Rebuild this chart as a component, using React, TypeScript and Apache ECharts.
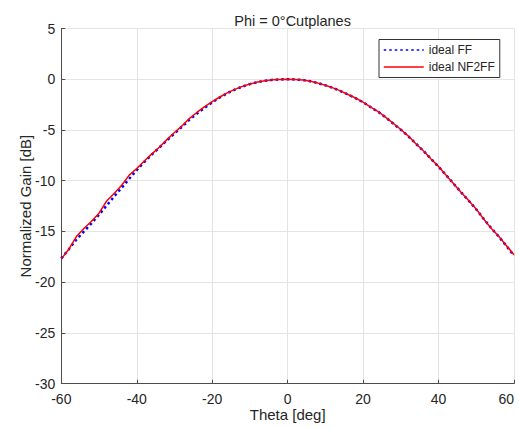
import React, { useEffect, useRef } from "react";
import * as echarts from "echarts";

const titleText = "Phi = 0°Cutplanes";
const xName = "Theta [deg]";
const yName = "Normalized Gain [dB]";
const seriesNames = ["ideal FF", "ideal NF2FF"];

const theta = [
  -60, -58, -56, -54, -52, -50, -48, -46, -44, -42, -40, -38, -36, -34, -32, -30,
  -28, -26, -24, -22, -20, -18, -16, -14, -12, -10, -8, -6, -4, -2, 0,
  2, 4, 6, 8, 10, 12, 14, 16, 18, 20, 22, 24, 26, 28, 30,
  32, 34, 36, 38, 40, 42, 44, 46, 48, 50, 52, 54, 56, 58, 60,
];

const idealFF = [
  -17.65, -16.75, -15.8, -15.0, -14.2, -13.35, -12.45, -11.55, -10.7, -9.8, -8.95, -8.15, -7.42, -6.72, -6.02, -5.35,
  -4.68, -3.98, -3.38, -2.82, -2.28, -1.8, -1.38, -1.02, -0.72, -0.48, -0.29, -0.15, -0.06, -0.02, 0,
  -0.02, -0.08, -0.2, -0.38, -0.6, -0.86, -1.16, -1.5, -1.87, -2.27, -2.75, -3.22, -3.77, -4.37, -4.97,
  -5.62, -6.35, -7.07, -7.85, -8.62, -9.45, -10.3, -11.15, -11.97, -12.82, -13.78, -14.68, -15.52, -16.42, -17.4,
];

const idealNF2FF = [
  -17.7, -16.75, -15.5, -14.7, -14.0, -13.2, -12.0, -11.25, -10.45, -9.45, -8.8, -8.05, -7.35, -6.7, -5.95, -5.25,
  -4.6, -3.85, -3.25, -2.7, -2.2, -1.75, -1.35, -1.0, -0.7, -0.47, -0.28, -0.14, -0.06, -0.02, 0,
  -0.02, -0.08, -0.2, -0.38, -0.6, -0.85, -1.15, -1.5, -1.85, -2.25, -2.75, -3.2, -3.75, -4.35, -4.95,
  -5.6, -6.35, -7.05, -7.85, -8.6, -9.45, -10.3, -11.15, -11.95, -12.8, -13.8, -14.7, -15.5, -16.4, -17.3,
];

const xMin = -60, xMax = 60, xStep = 20;
const yMin = -30, yMax = 5, yStep = 5;

export default function App() {
  const ref = useRef<HTMLDivElement>(null);
  useEffect(() => {
    if (!ref.current) return;
    const chart = echarts.init(ref.current, undefined, { renderer: "svg" });
    const axisColor = "#4d4d4d";
    const textColor = "#262626";
    const gridColor = "#e4e4e4";
    const font = "'Liberation Sans', Arial, Helvetica, sans-serif";
    chart.setOption({
      animation: false,
      backgroundColor: "#ffffff",
      textStyle: { fontFamily: font },
      title: {
        text: titleText,
        left: 287.6,
        top: 8,
        textAlign: "center",
        textStyle: { fontSize: 14.5, fontWeight: "normal", color: textColor, fontFamily: font },
      },
      legend: {
        orient: "vertical",
        left: 379,
        top: 39.5,
        padding: [3.5, 5, 3.5, 4],
        itemWidth: 40,
        itemHeight: 14,
        itemGap: 3,
        borderColor: "#333333",
        borderWidth: 1,
        backgroundColor: "#ffffff",
        itemStyle: { opacity: 0, borderWidth: 0 },
        lineStyle: { width: 1.5 },
        textStyle: { fontSize: 12, color: textColor, fontFamily: font, lineHeight: 14 },
        data: seriesNames,
      },
      grid: {
        left: 61.3,
        right: 5,
        top: 28.5,
        bottom: 45.3,
        containLabel: false,
        outerBoundsMode: "none",
      },
      xAxis: {
        type: "value",
        min: xMin,
        max: xMax,
        interval: xStep,
        name: xName,
        nameLocation: "middle",
        nameGap: 23,
        nameMoveOverlap: false,
        nameTextStyle: { fontSize: 15, color: textColor, fontFamily: font, lineHeight: 15 },
        axisLine: { show: true, onZero: false, lineStyle: { color: axisColor, width: 1 } },
        axisTick: { show: true, inside: true, length: 4, lineStyle: { color: axisColor } },
        axisLabel: {
          fontSize: 14,
          color: textColor,
          margin: 9,
          fontFamily: font,
          lineHeight: 13,
          alignMaxLabel: "right",
        },
        splitLine: { show: true, lineStyle: { color: gridColor, width: 1 } },
      },
      yAxis: {
        type: "value",
        min: yMin,
        max: yMax,
        interval: yStep,
        name: yName,
        nameLocation: "middle",
        nameGap: 28,
        nameMoveOverlap: false,
        nameTextStyle: { fontSize: 15, color: textColor, fontFamily: font },
        axisLine: { show: true, onZero: false, lineStyle: { color: axisColor, width: 1 } },
        axisTick: { show: true, inside: true, length: 4, lineStyle: { color: axisColor } },
        axisLabel: { fontSize: 14, color: textColor, margin: 6, fontFamily: font },
        splitLine: { show: true, lineStyle: { color: gridColor, width: 1 } },
      },
      series: [
        {
          name: seriesNames[0],
          type: "line",
          data: theta.map((t, i) => [t, idealFF[i]]),
          showSymbol: false,
          symbol: "none",
          smooth: false,
          lineStyle: { color: "#0000ff", width: 2.5, type: [2.5, 3], cap: "butt" },
          itemStyle: { color: "#0000ff" },
          z: 2,
        },
        {
          name: seriesNames[1],
          type: "line",
          data: theta.map((t, i) => [t, idealNF2FF[i]]),
          showSymbol: false,
          symbol: "none",
          smooth: false,
          lineStyle: { color: "#ff0000", width: 1.5, type: "solid" },
          itemStyle: { color: "#ff0000" },
          z: 3,
        },
      ],
    });
    return () => chart.dispose();
  }, []);
  return (
    <div
      ref={ref}
      style={{ position: "fixed", left: 0, top: 0, width: 519, height: 429, background: "#fff" }}
    />
  );
}
